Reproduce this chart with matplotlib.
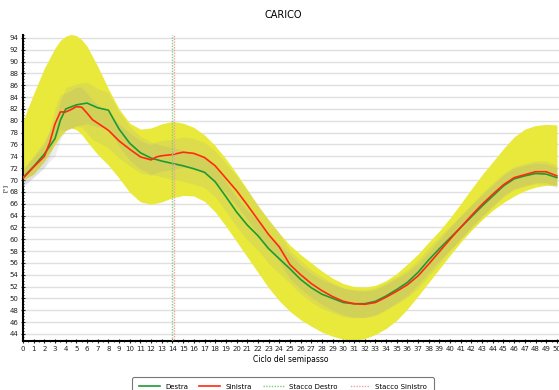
import numpy as np
import matplotlib
matplotlib.use('Agg')
import matplotlib.pyplot as plt
from matplotlib.ticker import MultipleLocator

# normative band (yellow)
norm_x = [0, 1, 2, 3, 3.5, 4, 4.5, 5, 5.5, 6, 7, 8, 9, 10, 11, 12, 13, 14, 15,
          16, 17, 18, 19, 20, 21, 22, 23, 24, 25, 26, 27, 28, 29, 30, 31, 32,
          33, 34, 35, 36, 37, 38, 39, 40, 41, 42, 43, 44, 45, 46, 47, 48, 49, 50]
norm_hi = [80.0, 84.6, 88.9, 92.3, 93.6, 94.3, 94.6, 94.4, 93.7, 92.6, 89.2,
           85.4, 82.0, 79.6, 78.6, 78.8, 79.5, 79.9, 79.6, 78.9, 77.6, 75.8,
           73.6, 71.1, 68.4, 65.7, 63.3, 61.0, 59.0, 57.4, 56.0, 54.6, 53.4,
           52.5, 52.0, 51.9, 52.2, 53.0, 54.2, 55.8, 57.5, 59.5, 61.4, 63.6,
           66.0, 68.5, 70.9, 73.1, 75.3, 77.3, 78.6, 79.2, 79.4, 79.3]
norm_lo = [70.0, 71.0, 73.2, 76.0, 77.4, 78.4, 78.8, 78.5, 77.7, 76.5, 74.3,
           72.5, 70.3, 67.9, 66.3, 65.9, 66.3, 67.0, 67.4, 67.3, 66.4, 64.6,
           62.2, 59.6, 57.0, 54.4, 51.8, 49.6, 47.8, 46.4, 45.3, 44.3, 43.6,
           43.1, 42.9, 43.2, 43.9, 44.9, 46.3, 48.2, 50.4, 52.7, 55.0, 57.3,
           59.5, 61.5, 63.3, 64.9, 66.2, 67.3, 68.2, 68.8, 69.1, 69.1]

# patient curves
destra_x = [0, 1, 2, 3, 3.5, 4, 5, 6, 7, 8, 9, 10, 11, 12, 13, 14, 15, 16, 17,
            18, 19, 20, 21, 22, 23, 24, 25, 26, 27, 28, 29, 30, 31, 32, 33,
            34, 35, 36, 37, 38, 39, 40, 41, 42, 43, 44, 45, 46, 47, 48, 49, 50]
destra_y = [70.4, 72.3, 74.4, 77.0, 80.1, 82.0, 82.7, 83.0, 82.2, 81.8, 78.6,
            76.2, 74.6, 73.7, 73.2, 72.8, 72.4, 71.9, 71.3, 69.7, 67.2, 64.6,
            62.4, 60.6, 58.4, 56.7, 55.0, 53.2, 51.8, 50.7, 50.0, 49.3, 49.1,
            49.1, 49.5, 50.4, 51.5, 52.7, 54.4, 56.5, 58.4, 60.2, 62.0, 63.8,
            65.6, 67.3, 69.0, 70.2, 70.7, 71.1, 71.0, 70.4]
sinistra_x = [0, 1, 2, 2.5, 3, 3.5, 4, 4.5, 5, 5.5, 6, 6.5, 7, 8, 9, 10, 11, 12,
              12.5, 13, 14, 15, 16, 17, 18, 19, 20, 21, 22, 23, 24, 25, 26, 27,
              28, 29, 30, 31, 32, 33, 34, 35, 36, 37, 38, 39, 40, 41, 42, 43,
              44, 45, 46, 47, 48, 49, 50]
sinistra_y = [70.3, 72.2, 74.0, 76.3, 79.5, 81.5, 81.5, 81.9, 82.4, 82.3, 81.3,
              80.2, 79.6, 78.4, 76.6, 75.2, 73.9, 73.4, 73.9, 74.1, 74.3, 74.7,
              74.5, 73.8, 72.4, 70.3, 68.2, 65.8, 63.3, 60.8, 58.7, 55.7, 54.0,
              52.5, 51.3, 50.3, 49.5, 49.1, 49.0, 49.3, 50.2, 51.2, 52.3, 53.8,
              55.8, 57.9, 60.0, 62.0, 64.0, 65.9, 67.6, 69.2, 70.4, 70.9, 71.4,
              71.4, 70.7]

# spread of the patient curves (grey shading)
sd_x = [0, 2, 4, 6, 8, 12, 20, 30, 40, 50]
sd_destra = [1.5, 2.2, 3.6, 3.5, 3.0, 2.7, 2.5, 2.4, 2.0, 1.7]
sd_sinistra = [1.4, 2.0, 3.2, 3.4, 3.0, 2.6, 2.5, 2.3, 2.0, 1.8]

stacco_destro = 14.0
stacco_sinistro = 14.1

fig = plt.figure(figsize=(5.59, 3.9), dpi=100)
ax = fig.add_axes([23 / 559, 1 - 341 / 390, 536 / 559, 306 / 390])

ax.fill_between(norm_x, norm_lo, norm_hi, color='#e9e93c', lw=0, zorder=2)
for xs, ys, sds in [(destra_x, destra_y, sd_destra),
                    (sinistra_x, sinistra_y, sd_sinistra)]:
    s = np.interp(xs, sd_x, sds)
    ax.fill_between(xs, np.array(ys) - s, np.array(ys) + s,
                    color='#a0a0a0', alpha=0.17, lw=0, zorder=3)

ax.plot(destra_x, destra_y, color='#1e9a35', lw=1.2, zorder=5, label='Destra')
ax.plot(sinistra_x, sinistra_y, color='#ff2a10', lw=1.2, zorder=6, label='Sinistra')
ax.axvline(stacco_destro, color='#7fcf7f', lw=1, ls=(0, (1, 1)), zorder=7,
           label='Stacco Destro')
ax.axvline(stacco_sinistro, color='#f4a0a0', lw=1, ls=(1, (1, 1)), zorder=7,
           label='Stacco Sinistro')

ax.set_xlim(0, 50.2)
ax.set_ylim(42.8, 94.5)
ax.xaxis.set_major_locator(MultipleLocator(1))
ax.xaxis.set_minor_locator(MultipleLocator(0.5))
ax.yaxis.set_major_locator(MultipleLocator(2))
ax.yaxis.set_minor_locator(MultipleLocator(0.5))
ax.tick_params(axis='both', which='major', labelsize=5, length=3, width=0.8,
               direction='inout', colors='#222222', pad=2)
ax.tick_params(axis='both', which='minor', length=2, width=0.6, direction='inout')
ax.grid(axis='y', which='major', color='#e0e0e0', lw=1, zorder=0)
ax.set_axisbelow(True)
for side in ['top', 'right']:
    ax.spines[side].set_visible(False)
ax.spines['left'].set_linewidth(1.5)
ax.spines['bottom'].set_linewidth(1.5)

ax.set_xlabel('Ciclo del semipasso', fontsize=5.5, labelpad=2)
ax.set_ylabel('[°]', fontsize=4.5, labelpad=1)
fig.text(283 / 559, 1 - 15 / 390, 'CARICO', ha='center', va='center', fontsize=7)

leg = fig.legend(loc='upper center', bbox_to_anchor=(283 / 559, 1 - 374 / 390),
                 ncol=4, fontsize=5, frameon=True, handlelength=3.0,
                 columnspacing=1.6, borderpad=0.9, fancybox=True)
leg.get_frame().set_edgecolor('#555555')
leg.get_frame().set_linewidth(0.8)

fig.savefig('out.png', dpi=100)
